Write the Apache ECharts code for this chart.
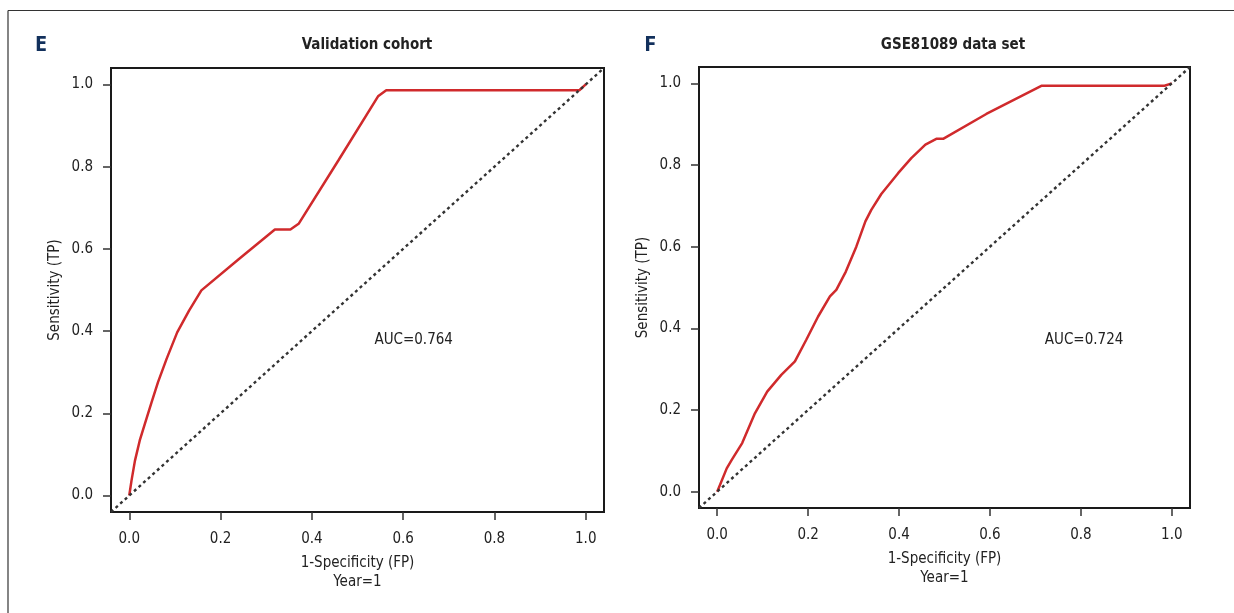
<!DOCTYPE html>
<html>
<head>
<meta charset="utf-8">
<title>ROC curves</title>
<script src="https://cdn.jsdelivr.net/npm/echarts@6/dist/echarts.min.js"></script>
<style>
  html, body { margin: 0; padding: 0; background: #ffffff; }
  #chart { width: 1234px; height: 613px; }
</style>
</head>
<body>
<div id="chart"></div>
<script>
// ROC curve of the validation cohort (1-specificity vs sensitivity)
const valFpr = [0, 0.005, 0.0125, 0.023, 0.034, 0.049, 0.063, 0.082, 0.105, 0.131, 0.158, 0.239, 0.319, 0.353, 0.371, 0.458, 0.545, 0.563, 0.986, 1.0];
const valTpr = [0, 0.037, 0.085, 0.134, 0.174, 0.227, 0.276, 0.333, 0.397, 0.450, 0.499, 0.574, 0.647, 0.647, 0.661, 0.815, 0.971, 0.986, 0.986, 1.0];

// ROC curve of the GSE81089 data set
const gseFpr = [0, 0.021, 0.032, 0.055, 0.083, 0.110, 0.141, 0.171, 0.196, 0.222, 0.248, 0.262, 0.283, 0.306, 0.326, 0.339, 0.361, 0.398, 0.427, 0.458, 0.482, 0.497, 0.592, 0.713, 0.984, 1.0];
const gseTpr = [0, 0.057, 0.078, 0.119, 0.192, 0.245, 0.286, 0.319, 0.372, 0.429, 0.478, 0.494, 0.539, 0.600, 0.662, 0.690, 0.729, 0.780, 0.817, 0.850, 0.864, 0.864, 0.925, 0.994, 0.994, 1.0];

// Reference diagonal spanning the whole plotting region
const diagonal = [-0.04, 1.04];

const tickValues = [0, 0.2, 0.4, 0.6, 0.8, 1.0];
const panelLetters = ['E', 'F'];
const panelTitles = ['Validation cohort', 'GSE81089 data set'];
const aucLabels = ['AUC=0.764', 'AUC=0.724'];
const aucPositions = [[0.623, 0.377], [0.807, 0.372]];
const xName = '1-Specificity (FP)\nYear=1';
const yName = 'Sensitivity (TP)';

const FONT = "'Liberation Sans Narrow', 'DejaVu Sans Condensed', 'Arial Narrow', sans-serif";
const TEXT = '#222222';
const RED = '#d02a2c';

const grids = [
  { left: 111, top: 68, width: 493, height: 444 },
  { left: 699, top: 67, width: 491, height: 441 }
];

function pairs(xs, ys) { return xs.map((x, i) => [x, ys[i]]); }

function axisCommon(i, margin) {
  return {
    type: 'value', gridIndex: i, min: -0.04, max: 1.04,
    axisLine: { show: false, onZero: false },
    splitLine: { show: false },
    axisTick: { show: true, inside: false, length: 8, customValues: tickValues,
      lineStyle: { color: '#333', width: 1.5 } },
    axisLabel: { customValues: tickValues, margin: margin, color: TEXT, fontFamily: FONT, fontSize: 15,
      formatter: v => v.toFixed(1) }
  };
}
function xAxis(i) {
  return Object.assign(axisCommon(i, 20), {
    position: 'bottom',
    name: xName, nameLocation: 'middle', nameGap: 42,
    nameTextStyle: { color: TEXT, fontFamily: FONT, fontSize: 15, lineHeight: 19 }
  });
}
function yAxis(i) {
  return Object.assign(axisCommon(i, 18), {
    position: 'left',
    name: yName, nameLocation: 'middle', nameGap: 48,
    nameTextStyle: { color: TEXT, fontFamily: FONT, fontSize: 15 }
  });
}

const curves = [pairs(valFpr, valTpr), pairs(gseFpr, gseTpr)];

const series = [];
[0, 1].forEach(i => {
  series.push({
    type: 'line', xAxisIndex: i, yAxisIndex: i, data: curves[i],
    showSymbol: false, symbol: 'none', smooth: false, clip: true,
    lineStyle: { color: RED, width: 2.5 }, z: 3
  });
  series.push({
    type: 'line', xAxisIndex: i, yAxisIndex: i, data: pairs(diagonal, diagonal),
    showSymbol: false, symbol: 'none', clip: true,
    lineStyle: { color: '#333333', width: 2.4, type: [3, 3.2] }, z: 4
  });
  series.push({
    type: 'scatter', xAxisIndex: i, yAxisIndex: i, data: [aucPositions[i]],
    symbolSize: 0, silent: true, itemStyle: { opacity: 1 },
    label: { show: true, position: 'inside', formatter: aucLabels[i],
      color: TEXT, fontFamily: FONT, fontSize: 15 }
  });
});

const titleCenters = [[367, 45], [953, 45]];
const letterPos = [[41, 45], [650, 45]];

const graphic = [
  // page frame: top and left rules
  { type: 'line', shape: { x1: 8, y1: 10.5, x2: 1234, y2: 10.5 }, style: { stroke: '#333', lineWidth: 1.2 } },
  { type: 'line', shape: { x1: 8, y1: 10.5, x2: 8, y2: 613 }, style: { stroke: '#333', lineWidth: 1.2 } }
];
[0, 1].forEach(i => {
  graphic.push({
    type: 'text', x: letterPos[i][0], y: letterPos[i][1],
    style: { text: panelLetters[i], fill: '#12305c', font: "bold 22px 'Open Sans', 'DejaVu Sans', sans-serif",
      align: 'center', verticalAlign: 'middle', textAlign: 'center', textVerticalAlign: 'middle' }
  });
  graphic.push({
    type: 'text', x: titleCenters[i][0], y: titleCenters[i][1],
    style: { text: panelTitles[i], fill: TEXT, font: "bold 15px " + FONT,
      align: 'center', verticalAlign: 'middle', textAlign: 'center', textVerticalAlign: 'middle' }
  });
});

const chart = echarts.init(document.getElementById('chart'), null, { renderer: 'canvas' });
chart.setOption({
  animation: false,
  backgroundColor: '#ffffff',
  grid: grids.map(g => Object.assign({ show: true, borderColor: '#1a1a1a', borderWidth: 2, backgroundColor: 'transparent' }, g)),
  xAxis: [xAxis(0), xAxis(1)],
  yAxis: [yAxis(0), yAxis(1)],
  series: series,
  graphic: graphic
});
</script>
</body>
</html>
